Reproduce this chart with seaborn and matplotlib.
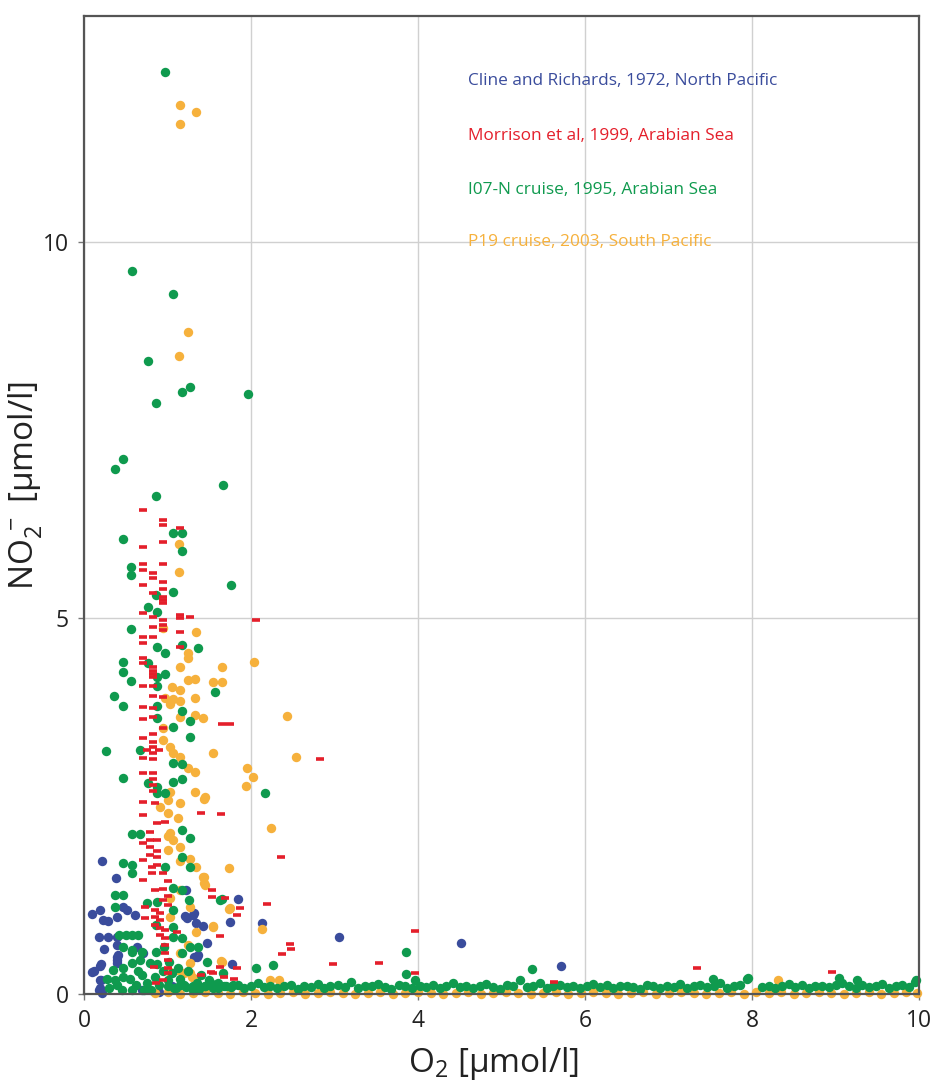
import matplotlib
matplotlib.use("Agg")
import matplotlib.pyplot as plt
import seaborn as sns
import pandas as pd

# ---------------- data (O2, NO2-) ----------------
cline_pts = [(0.22,1.77),(0.38,1.54),(0.10,1.06),(0.19,1.12),(0.23,0.98),(0.29,0.97),(0.40,1.02),(0.47,1.16),
    (0.61,1.05),(0.51,1.12),(0.18,0.76),(0.29,0.76),(0.40,0.76),(0.24,0.60),(0.40,0.65),(0.41,0.52),(0.40,0.45),
    (0.19,0.37),(0.10,0.29),(0.19,0.19),(0.19,0.08),(0.22,0.01),(0.12,0.30),(0.20,0.40),(0.20,0.19),(0.40,0.49),
    (0.40,0.41),(0.18,0.05),(0.63,0.62),(0.71,0.55),(1.84,1.26),(1.75,0.96),(1.43,0.90),(1.21,1.04),(1.31,1.05),
    (1.34,0.94),(1.22,1.38),(1.47,0.68),(1.37,0.52),(1.35,0.49),(1.77,0.40),(2.13,0.94),(1.32,1.08),(1.23,1.01),
    (3.05,0.76),(4.51,0.68),(5.71,0.37),(1.32,0.49),(0.70,0.05),(0.90,0.02),(1.05,0.10)]

morrison_pts = [(0.71,6.44),(0.95,6.30),(0.95,6.24),(1.15,6.20),(0.95,6.01),(0.71,5.94),(0.71,5.72),(0.71,5.64),
    (0.95,5.72),(0.83,5.60),(0.83,5.53),(0.71,5.43),(0.95,5.47),(0.95,5.39),(0.95,5.28),(0.83,5.33),(0.95,5.24),
    (0.95,5.20),(0.71,5.07),(0.83,5.01),(1.15,5.04),(1.15,5.00),(1.27,5.01),(0.95,4.97),(0.95,4.91),(0.95,4.84),
    (0.83,4.88),(1.15,4.81),(0.71,4.75),(0.71,4.67),(0.83,4.75),(1.15,4.61),(0.71,4.47),(0.71,4.40),(0.83,4.35),
    (0.83,4.30),(0.83,4.26),(0.83,4.22),(0.71,4.10),(0.83,4.10),(0.83,3.96),(0.95,3.95),(0.71,3.82),(0.83,3.80),
    (0.83,3.68),(0.71,3.66),(1.65,3.59),(1.75,3.59),(0.95,3.54),(0.71,3.40),(0.83,3.45),(0.83,3.35),(0.83,3.28),
    (0.83,3.20),(0.76,3.24),(0.90,3.24),(0.83,3.13),(0.71,3.14),(2.83,3.13),(0.71,2.94),(0.83,2.94),(0.83,2.86),
    (0.83,2.78),(0.83,2.70),(2.06,4.97),(0.71,2.55),(0.71,2.38),(0.85,2.54),(0.87,2.27),(0.97,2.29),(0.79,2.15),
    (0.79,2.05),(0.79,1.95),(0.79,1.85),(0.87,2.05),(0.87,1.90),(0.87,1.82),(0.71,2.01),(0.71,1.78),(0.71,1.52),
    (0.82,1.69),(0.82,1.61),(0.87,1.72),(0.95,1.61),(1.01,1.50),(0.95,1.40),(1.01,1.30),(0.95,1.25),(1.01,1.18),
    (0.85,1.38),(0.73,1.16),(0.73,1.01),(0.85,1.12),(0.85,1.02),(0.85,0.92),(0.91,1.08),(0.91,0.98),(0.91,0.88),
    (0.91,0.78),(0.97,0.85),(0.97,0.75),(0.97,0.65),(0.97,0.55),(1.01,0.45),(1.01,0.35),(1.01,0.28),(1.11,0.82),
    (1.53,1.38),(1.69,1.28),(1.63,0.36),(1.54,0.28),(1.87,1.14),(1.40,2.41),(1.64,2.39),(2.36,1.82),(1.83,1.05),
    (1.53,1.29),(2.19,1.20),(1.63,0.77),(1.83,0.35),(2.47,0.66),(2.48,0.60),(2.37,0.53),(2.98,0.40),(3.53,0.41),
    (3.96,0.84),(3.96,0.28),(0.84,0.36),(0.86,0.14),(1.40,0.25),(1.52,0.29),(1.68,0.22),(1.80,0.20),(0.95,0.18),
    (5.63,0.16),(7.34,0.35),(8.96,0.29)]

i07_pts = [(0.97,12.26),(0.57,9.61),(1.06,9.30),(0.77,8.42),(1.27,8.07),(1.17,8.00),(1.97,7.97),(0.86,7.85),
    (0.47,7.11),(0.37,6.98),(1.66,6.76),(0.86,6.62),(1.07,6.13),(1.17,6.13),(1.17,5.89),(0.47,6.05),(0.56,5.67),
    (0.56,5.57),(1.76,5.43),(1.07,5.35),(0.86,5.31),(0.77,5.15),(0.87,5.08),(0.56,4.85),(1.17,4.64),(1.37,4.60),
    (0.87,4.61),(0.97,4.53),(0.47,4.41),(0.77,4.40),(0.47,4.28),(0.97,4.26),(0.87,4.22),(0.56,4.16),(0.87,4.10),
    (0.36,3.96),(1.57,4.02),(0.47,3.83),(0.87,3.83),(1.17,3.76),(1.27,3.63),(0.87,3.67),(1.07,3.55),(1.27,3.42),
    (0.26,3.23),(0.67,3.24),(1.07,3.07),(1.17,3.06),(0.47,2.87),(1.07,2.82),(1.17,2.86),(0.77,2.81),(0.87,2.75),
    (2.17,2.67),(0.87,2.67),(0.97,2.67),(0.57,2.13),(0.67,2.13),(0.47,1.74),(0.57,1.72),(0.57,1.61),(0.37,1.32),
    (0.47,1.32),(0.37,1.16),(0.42,0.78),(0.50,0.78),(0.58,0.78),(0.65,0.78),(0.57,0.59),(0.47,0.62),(0.57,0.56),
    (0.69,0.56),(0.67,0.45),(0.57,0.41),(0.79,0.41),(0.35,0.32),(0.47,0.35),(0.47,0.23),(0.37,0.19),(1.65,1.26),
    (1.63,1.25),(1.47,0.43),(1.27,0.62),(1.17,0.55),(1.07,0.89),(1.07,0.76),(1.17,0.74),(0.96,0.62),(0.86,0.56),
    (0.86,0.92),(0.75,1.21),(0.87,1.22),(1.26,1.25),(1.27,1.69),(1.17,1.82),(1.17,2.18),(1.27,2.07),(0.97,1.69),
    (1.07,1.41),(1.17,1.38),(1.07,1.12),(1.37,0.62),(1.67,0.28),(2.06,0.35),(2.26,0.39),(3.86,0.56),(3.86,0.27),
    (3.96,0.19),(5.37,0.33),(7.53,0.20),(7.95,0.21),(9.04,0.21),(9.26,0.19),(9.95,0.16),
    (0.55,0.20),(0.62,0.12),(0.70,0.25),(0.75,0.15),(0.80,0.05),(0.85,0.22),(0.90,0.12),(0.95,0.30),(1.00,0.18),
    (1.05,0.28),(1.10,0.08),(1.15,0.20),(1.20,0.12),(1.25,0.30),(1.30,0.05),(1.35,0.15),(1.40,0.25),(1.45,0.10),
    (1.50,0.18),(1.55,0.08),(1.60,0.15),(1.70,0.10),(1.78,0.12),(0.65,0.30),(0.72,0.05),(0.58,0.05),(0.88,0.40),
    (1.02,0.42),(1.12,0.35),(0.45,0.05),(0.40,0.12),(0.30,0.08),(0.28,0.20)]

i07_base_o2 = [1.00,1.08,1.15,1.22,1.30,1.38,1.45,1.53,1.60,1.68,1.76,1.84,1.92,2.00,2.08,2.15,2.23,2.31,2.40,2.48,
    2.56,2.63,2.72,2.80,2.88,2.95,3.04,3.12,3.20,3.28,3.36,3.45,3.52,3.60,3.68,3.77,3.85,3.93,4.02,4.10,
    4.18,4.26,4.34,4.42,4.50,4.58,4.66,4.74,4.82,4.90,4.98,5.06,5.14,5.22,5.30,5.38,5.46,5.54,5.62,5.70,
    5.78,5.86,5.94,6.02,6.10,6.18,6.26,6.34,6.42,6.50,6.58,6.66,6.74,6.82,6.90,6.98,7.06,7.14,7.22,7.30,
    7.38,7.46,7.54,7.62,7.70,7.78,7.86,7.94,8.12,8.20,8.28,8.36,8.44,8.52,8.60,8.68,8.76,8.84,8.92,9.00,
    9.08,9.16,9.24,9.32,9.40,9.48,9.56,9.64,9.72,9.80,9.88,9.96]
i07_base_no2 = [0.10,0.08,0.12,0.09,0.11,0.07,0.10,0.13,0.08,0.11,0.09,0.12,0.08,0.10,0.14,0.09,0.11,0.08,0.10,0.12,
    0.07,0.11,0.09,0.13,0.08,0.10,0.12,0.09,0.16,0.08,0.11,0.10,0.13,0.09,0.07,0.12,0.10,0.08,0.11,0.09,
    0.12,0.08,0.10,0.14,0.09,0.11,0.08,0.10,0.13,0.09,0.07,0.12,0.10,0.18,0.09,0.11,0.15,0.08,0.10,0.12,
    0.09,0.11,0.08,0.10,0.13,0.09,0.12,0.08,0.10,0.11,0.09,0.07,0.12,0.10,0.08,0.11,0.09,0.13,0.08,0.10,
    0.12,0.09,0.11,0.15,0.08,0.10,0.12,0.20,0.09,0.11,0.08,0.10,0.13,0.09,0.12,0.08,0.10,0.11,0.09,0.12,
    0.14,0.10,0.08,0.12,0.09,0.11,0.13,0.08,0.10,0.12,0.09,0.18]

p19_pts = [(1.15,11.82),(1.34,11.73),(1.15,11.56),(1.25,8.80),(1.14,8.48),(1.14,5.98),(1.14,5.61),(0.95,4.87),
    (1.34,4.81),(1.24,4.53),(1.24,4.47),(2.03,4.41),(1.15,4.35),(1.65,4.35),(1.33,4.19),(1.24,4.18),(1.54,4.15),
    (1.65,4.15),(1.05,4.08),(1.15,4.04),(0.97,3.93),(1.07,3.92),(1.15,3.90),(1.33,3.93),(1.03,3.85),(1.15,3.68),
    (1.33,3.71),(1.42,3.67),(0.95,3.54),(0.95,3.38),(1.03,3.28),(1.07,3.20),(1.54,3.20),(1.15,3.15),(1.95,3.00),
    (2.02,2.88),(1.94,2.76),(1.33,2.95),(1.25,3.00),(1.33,2.68),(1.45,2.62),(1.03,2.68),(2.43,3.70),(2.54,3.15),
    (1.44,2.59),(2.24,2.21),(1.74,1.68),(1.44,1.56),(1.44,1.48),(1.74,1.13),(2.13,0.86),(1.54,0.90),(1.64,0.44),
    (2.23,0.19),(2.34,0.19),(1.00,2.10),(1.07,2.05),(1.34,1.69),(1.34,0.82),(0.91,2.48),(1.01,2.58),(1.15,2.54),
    (1.01,2.41),(1.13,2.34),(1.03,2.14),(1.15,1.96),(1.01,1.92),(1.15,1.77),(1.27,1.80),(1.43,1.55),(1.45,1.45),
    (1.15,1.38),(1.03,1.28),(1.27,1.16),(1.75,1.14),(1.03,1.02),(1.54,0.89),(1.25,0.65),(1.15,0.55),(1.27,0.41),
    (1.65,0.43),(1.27,0.28),(1.34,0.20),(1.03,0.29),(1.20,0.28),(1.29,0.23),(1.12,0.32),(8.31,0.19)]

p19_base_o2 = [0.85,1.00,1.15,1.30,1.45,1.60,1.75,1.90,2.05,2.20,2.35,2.50,2.65,2.80,2.95,3.10,3.25,3.40,3.55,3.70,
    3.85,4.00,4.15,4.30,4.45,4.60,4.75,4.90,5.05,5.20,5.35,5.50,5.65,5.80,5.95,6.10,6.25,6.40,6.55,6.70,
    6.85,7.00,7.15,7.30,7.45,7.60,7.75,7.90,8.05,8.20,8.35,8.50,8.65,8.80,8.95,9.10,9.25,9.40,9.55,9.70,
    9.85,9.98]
p19_base_no2 = [0.01,0.02,0.00,0.01,0.02,0.01,0.00,0.02,0.01,0.00,0.01,0.02,0.00,0.01,0.02,0.01,0.00,0.01,0.02,0.00,
    0.01,0.02,0.01,0.00,0.01,0.02,0.00,0.01,0.02,0.01,0.00,0.01,0.02,0.00,0.01,0.02,0.01,0.00,0.01,0.02,
    0.00,0.01,0.02,0.01,0.00,0.01,0.02,0.00,0.03,0.01,0.02,0.00,0.01,0.02,0.01,0.00,0.01,0.02,0.00,0.01,
    0.02,0.01]

series_labels = ["Cline and Richards, 1972, North Pacific",
                 "Morrison et al, 1999, Arabian Sea",
                 "I07-N cruise, 1995, Arabian Sea",
                 "P19 cruise, 2003, South Pacific"]
x_ticks = [0, 2, 4, 6, 8, 10]
y_ticks = [0, 5, 10]

# ---------------- styling ----------------
BLUE = "#3a4c9c"
RED = "#e41f2b"
GREEN = "#0f9a4e"
ORANGE = "#f6b13c"

sns.set_theme(style="white")
plt.rcParams['font.family'] = ['Open Sans', 'DejaVu Sans']
plt.rcParams['mathtext.default'] = 'regular'

fig = plt.figure(figsize=(9.30, 10.84), dpi=100)
ax = fig.add_axes([84/930, 90/1084, 835/930, 978/1084])

def frame(pts):
    return pd.DataFrame(pts, columns=["o2", "no2"])

p19_all = pd.concat([frame(list(zip(p19_base_o2, p19_base_no2))), frame(p19_pts)])
i07_all = pd.concat([frame(list(zip(i07_base_o2, i07_base_no2))), frame(i07_pts)])

common = dict(ax=ax, legend=False, clip_on=False, zorder=3)
sns.scatterplot(data=frame(cline_pts), x="o2", y="no2", color=BLUE, s=46, linewidth=0, **common)
sns.scatterplot(data=p19_all, x="o2", y="no2", color=ORANGE, s=46, linewidth=0, **common)
sns.scatterplot(data=i07_all, x="o2", y="no2", color=GREEN, s=46, linewidth=0, **common)
sns.scatterplot(data=frame(morrison_pts), x="o2", y="no2", color=RED, marker="_", s=30, linewidth=2.6, **common)

ax.set_xlim(0, 10)
ax.set_ylim(0, 13)
ax.set_xticks(x_ticks)
ax.set_yticks(y_ticks)
ax.set_xticklabels([str(t) for t in x_ticks])
ax.set_yticklabels([str(t) for t in y_ticks])
ax.grid(True, color="#d0d0d0", linewidth=1.0)
ax.set_axisbelow(True)
for sp in ax.spines.values():
    sp.set_color("#555555")
    sp.set_linewidth(1.6)
    sp.set_zorder(4)
ax.tick_params(axis="both", which="major", labelsize=16.5, length=4, width=1,
               color="#777777", direction="out", left=True, bottom=True, pad=7, labelcolor="#222222")

ax.set_xlabel("O$_2$ [µmol/l]", fontsize=24, color="#222222")
ax.set_ylabel("NO$_2^{\\,-}$ [µmol/l]", fontsize=24, color="#222222")
ax.xaxis.set_label_coords(0.49, -0.052)
ax.yaxis.set_label_coords(-0.048, 0.52)

text_colors = [BLUE, RED, GREEN, ORANGE]
text_y = [12.14, 11.40, 10.69, 10.0]
for lab, c, yy in zip(series_labels, text_colors, text_y):
    ax.text(4.60, yy, lab, color=c, fontsize=12.4, va="center", ha="left", zorder=5)

fig.savefig("out.png", dpi=100)
